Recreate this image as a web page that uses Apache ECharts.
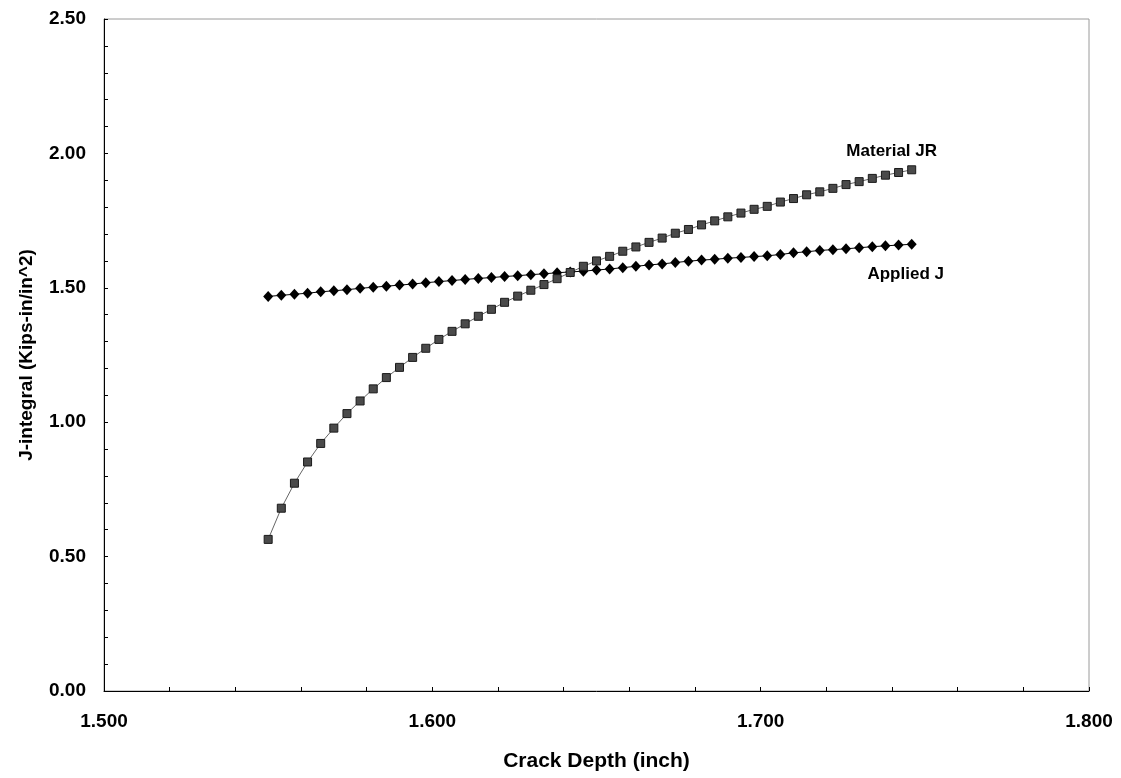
<!DOCTYPE html>
<html>
<head>
<meta charset="utf-8">
<title>J-integral vs Crack Depth</title>
<script src="https://cdn.jsdelivr.net/npm/echarts@6/dist/echarts.min.js"></script>
<style>
    html, body { margin: 0; padding: 0; background: #fff; }
    #chart { width: 1121px; height: 778px; }
</style>
</head>
<body>
<div id="chart"></div>
<script>
var crackDepth = [
    1.550, 1.554, 1.558, 1.562, 1.566, 1.570, 1.574, 1.578, 1.582, 1.586,
    1.590, 1.594, 1.598, 1.602, 1.606, 1.610, 1.614, 1.618, 1.622, 1.626,
    1.630, 1.634, 1.638, 1.642, 1.646, 1.650, 1.654, 1.658, 1.662, 1.666,
    1.670, 1.674, 1.678, 1.682, 1.686, 1.690, 1.694, 1.698, 1.702, 1.706,
    1.710, 1.714, 1.718, 1.722, 1.726, 1.730, 1.734, 1.738, 1.742, 1.746
];

var appliedJ = [
    1.468, 1.472, 1.476, 1.480, 1.485, 1.489, 1.493, 1.498, 1.502, 1.506,
    1.510, 1.514, 1.519, 1.523, 1.527, 1.531, 1.535, 1.538, 1.542, 1.545,
    1.549, 1.552, 1.556, 1.559, 1.562, 1.566, 1.570, 1.575, 1.580, 1.585,
    1.589, 1.594, 1.599, 1.603, 1.606, 1.610, 1.613, 1.616, 1.619, 1.624,
    1.630, 1.634, 1.639, 1.642, 1.645, 1.649, 1.653, 1.656, 1.659, 1.662
];

var materialJR = [
    0.564, 0.680, 0.773, 0.852, 0.921, 0.978, 1.032, 1.079, 1.124, 1.166,
    1.204, 1.241, 1.275, 1.308, 1.338, 1.366, 1.394, 1.420, 1.446, 1.469,
    1.491, 1.512, 1.534, 1.557, 1.580, 1.600, 1.617, 1.636, 1.652, 1.669,
    1.685, 1.703, 1.717, 1.734, 1.749, 1.764, 1.778, 1.792, 1.803, 1.819,
    1.832, 1.846, 1.857, 1.870, 1.884, 1.895, 1.907, 1.919, 1.929, 1.939
];

var FONT = '"Liberation Sans", Arial, sans-serif';

// pair x with y, and put the series name next to the last point
function buildData(ys, name, pos, offset) {
    var out = [];
    for (var i = 0; i < ys.length; i++) {
        var item = { value: [crackDepth[i], ys[i]] };
        if (i == ys.length - 1) {
            item.label = {
                show: true,
                formatter: name,
                position: pos,
                distance: 4,
                offset: offset,
                color: '#000',
                fontFamily: FONT,
                fontWeight: 'bold',
                fontSize: 17
            };
        }
        out.push(item);
    }
    return out;
}

var chart = echarts.init(document.getElementById('chart'));
var option = {
    animation: false,
    backgroundColor: '#fff',
    grid: {
        left: 104,
        right: 32,
        top: 19,
        bottom: 87,
        show: true,
        borderColor: '#9a9a9a',
        borderWidth: 1
    },
    xAxis: {
        type: 'value',
        min: 1.5,
        max: 1.8,
        interval: 0.1,
        name: 'Crack Depth (inch)',
        nameLocation: 'middle',
        nameGap: 60,
        nameTextStyle: { color: '#000', fontFamily: FONT, fontWeight: 'bold', fontSize: 21 },
        axisLine: { lineStyle: { color: '#000', width: 1 } },
        axisTick: { inside: true, length: 4, lineStyle: { color: '#000' } },
        minorTick: { show: true, splitNumber: 5, length: 4, lineStyle: { color: '#000' } },
        splitLine: { show: false },
        axisLabel: {
            margin: 21,
            color: '#000',
            fontFamily: FONT,
            fontWeight: 'bold',
            fontSize: 19,
            formatter: function (v) { return v.toFixed(3); }
        }
    },
    yAxis: {
        type: 'value',
        min: 0,
        max: 2.5,
        interval: 0.5,
        name: 'J-integral (Kips-in/in^2)',
        nameLocation: 'middle',
        nameGap: 68,
        nameTextStyle: { color: '#000', fontFamily: FONT, fontWeight: 'bold', fontSize: 19 },
        axisLine: { show: true, lineStyle: { color: '#000', width: 1 } },
        axisTick: { show: true, inside: true, length: 4, lineStyle: { color: '#000' } },
        minorTick: { show: true, splitNumber: 5, length: 4, lineStyle: { color: '#000' } },
        splitLine: { show: false },
        axisLabel: {
            margin: 18,
            color: '#000',
            fontFamily: FONT,
            fontWeight: 'bold',
            fontSize: 19,
            formatter: function (v) { return v.toFixed(2); }
        }
    },
    series: [
        {
            name: 'Applied J',
            type: 'line',
            symbol: 'diamond',
            symbolSize: [10, 11],
            itemStyle: { color: '#000' },
            lineStyle: { color: '#000', width: 1 },
            data: buildData(appliedJ, 'Applied J', 'bottom', [-6, 12])
        },
        {
            name: 'Material JR',
            type: 'line',
            symbol: 'rect',
            symbolSize: 8,
            itemStyle: { color: '#4a4a4a', borderColor: '#1a1a1a', borderWidth: 1 },
            lineStyle: { color: '#666', width: 1 },
            data: buildData(materialJR, 'Material JR', 'top', [-20, -1])
        }
    ]
};
chart.setOption(option);
</script>
</body>
</html>
